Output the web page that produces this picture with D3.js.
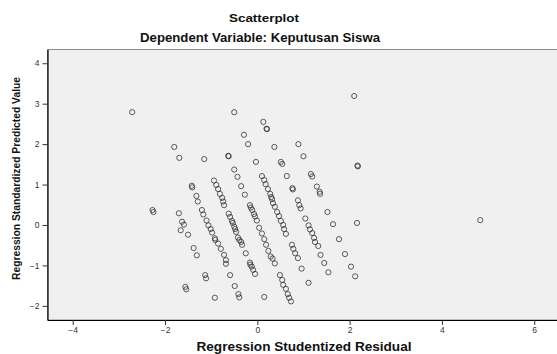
<!DOCTYPE html>
<html>
<head>
<meta charset="utf-8">
<script src="https://cdn.jsdelivr.net/npm/d3@7"></script>
<style>
  body { margin: 0; background: #fff; }
  svg { display: block; font-family: Arial, "Liberation Sans", sans-serif; }
</style>
</head>
<body>
<div id="chart"></div>
<script>
// Regression Studentized Residual (x) and Regression Standardized Predicted Value (y)
const residual = [
  -2.71, -0.50, 2.10, 2.17, 2.18, 4.83, 2.16, 0.15, -2.27, -2.25, -1.80, -1.69, -1.66, -1.56, -1.54,
  -1.70, -1.63, -1.59, -1.50, -1.38, -1.31, -1.13, -1.11, -0.92,
  -1.42, -1.41, -1.32, -1.29, -1.20, -1.17, -1.10, -1.06, -1.01, -0.98, -0.92, -0.91, -0.85, -0.79,
  -0.72, -0.68, -0.68, -0.59, -0.49, -0.41, -0.39,
  -1.15, -0.94, -0.89, -0.85, -0.81, -0.76, -0.74, -0.72, -0.62, -0.59, -0.55, -0.53, -0.50, -0.48,
  -0.46, -0.42, -0.39, -0.35, -0.33, -0.25, -0.16, -0.15, -0.12, -0.09, -0.05,
  -0.63, -0.62, -0.50, -0.43, -0.35, -0.27, -0.16, -0.14, -0.11, -0.07, -0.05, -0.01, 0.04, 0.10,
  0.15, 0.19, 0.24, 0.29, 0.33, 0.38, 0.49, 0.54, 0.56, 0.62, 0.66, 0.69, 0.73,
  -0.29, -0.20, -0.03, 0.10, 0.15, 0.18, 0.23, 0.28, 0.30, 0.32, 0.34, 0.38, 0.43, 0.47, 0.51, 0.56,
  0.58, 0.62, 0.75, 0.78, 0.82, 0.88, 0.96, 1.11,
  0.13, 0.20, 0.21, 0.37, 0.51, 0.54, 0.64, 0.76, 0.77, 0.88, 0.91, 0.94, 1.04, 1.11, 1.14, 1.19,
  1.23, 1.25, 1.32, 1.37, 1.45, 1.54,
  0.89, 1.00, 1.16, 1.19, 1.29, 1.35, 1.36, 1.52, 1.64, 1.77, 1.90, 2.03, 2.12
];
const predicted = [
  2.79, 2.79, 3.19, 1.47, 1.45, 0.12, 0.05, -1.78, 0.37, 0.32, 1.93, 1.66, -0.13, -1.53, -1.59,
  0.29, 0.08, 0.01, -0.24, -0.57, -0.75, -1.24, -1.32, -1.80,
  0.97, 0.93, 0.72, 0.58, 0.37, 0.26, 0.11, -0.01, -0.10, -0.19, -0.33, -0.37, -0.46, -0.59,
  -0.74, -0.87, -0.96, -1.24, -1.51, -1.71, -1.79,
  1.63, 1.10, 0.99, 0.89, 0.77, 0.67, 0.58, 0.49, 0.28, 0.20, 0.10, 0.05, -0.04, -0.10,
  -0.17, -0.31, -0.37, -0.42, -0.49, -0.70, -0.93, -0.98, -1.03, -1.11, -1.21,
  1.71, 1.70, 1.37, 1.19, 0.96, 0.75, 0.49, 0.43, 0.37, 0.27, 0.21, 0.11, -0.07, -0.21,
  -0.35, -0.49, -0.64, -0.78, -0.83, -0.95, -1.24, -1.36, -1.48, -1.58, -1.71, -1.80, -1.89,
  2.23, 2.00, 1.56, 1.21, 1.11, 1.01, 0.89, 0.77, 0.69, 0.64, 0.54, 0.45, 0.32, 0.22, 0.10, 0.00,
  -0.10, -0.22, -0.49, -0.59, -0.70, -0.82, -1.08, -1.43,
  2.55, 2.38, 2.37, 1.93, 1.56, 1.51, 1.21, 0.91, 0.88, 0.61, 0.49, 0.41, 0.16, -0.01, -0.11, -0.20,
  -0.32, -0.42, -0.52, -0.74, -0.94, -1.17,
  2.00, 1.70, 1.26, 1.20, 0.95, 0.82, 0.77, 0.32, 0.02, -0.35, -0.72, -1.03, -1.27
];
const xTicks = [-4, -2, 0, 2, 4, 6];
const yTicks = [-2, -1, 0, 1, 2, 3, 4];

const points = residual.map((r, i) => ({ x: r, y: predicted[i] }));

const width = 557, height = 354;
const plot = { left: 47.5, right: 561, top: 49.5, bottom: 320 };

const svg = d3.select('#chart').append('svg')
  .attr('width', width)
  .attr('height', height);

const x = d3.scaleLinear().domain([-4.546, 6.58]).range([plot.left, plot.right]);
const y = d3.scaleLinear().domain([-2.35, 4.34]).range([plot.bottom, plot.top]);

// plot background
svg.append('rect')
  .attr('x', plot.left)
  .attr('y', plot.top)
  .attr('width', plot.right - plot.left)
  .attr('height', plot.bottom - plot.top)
  .attr('fill', '#f0f0f0')
  .attr('stroke', '#8c8c8c')
  .attr('stroke-width', 1);

// titles (the source image is stretched sideways, so widths are fixed)
svg.append('text')
  .attr('x', 264).attr('y', 22)
  .attr('text-anchor', 'middle')
  .attr('font-size', 11.5).attr('font-weight', 'bold').attr('fill', '#111')
  .attr('textLength', 70).attr('lengthAdjust', 'spacingAndGlyphs')
  .text('Scatterplot');

svg.append('text')
  .attr('x', 260).attr('y', 41.5)
  .attr('text-anchor', 'middle')
  .attr('font-size', 12).attr('font-weight', 'bold').attr('fill', '#111')
  .attr('textLength', 240).attr('lengthAdjust', 'spacingAndGlyphs')
  .text('Dependent Variable: Keputusan Siswa');

// axes
const xAxis = svg.append('g')
  .attr('transform', `translate(0,${plot.bottom})`)
  .call(d3.axisBottom(x).tickValues(xTicks).tickFormat(d3.format('d'))
    .tickSizeInner(5).tickSizeOuter(0).tickPadding(2));

const yAxis = svg.append('g')
  .attr('transform', `translate(${plot.left},0)`)
  .call(d3.axisLeft(y).tickValues(yTicks).tickFormat(d3.format('d'))
    .tickSizeInner(5).tickSizeOuter(0).tickPadding(3));

[xAxis, yAxis].forEach(g => {
  g.select('.domain').attr('stroke', '#000').attr('stroke-width', 1.2);
  g.selectAll('.tick line').attr('stroke', '#333');
  g.selectAll('.tick text')
    .attr('font-size', 8.5)
    .attr('fill', '#333')
    .attr('font-family', 'Arial, "Liberation Sans", sans-serif');
});

// axis titles
svg.append('text')
  .attr('x', 304).attr('y', 351)
  .attr('text-anchor', 'middle')
  .attr('font-size', 12).attr('font-weight', 'bold').attr('fill', '#111')
  .attr('textLength', 215).attr('lengthAdjust', 'spacingAndGlyphs')
  .text('Regression Studentized Residual');

svg.append('text')
  .attr('transform', 'translate(20,178.5) rotate(-90)')
  .attr('text-anchor', 'middle')
  .attr('font-size', 11).attr('font-weight', 'bold').attr('fill', '#111')
  .attr('textLength', 203).attr('lengthAdjust', 'spacingAndGlyphs')
  .text('Regression Standardized Predicted Value');

// points
svg.append('g')
  .selectAll('circle')
  .data(points)
  .enter()
  .append('circle')
  .attr('cx', d => x(d.x))
  .attr('cy', d => y(d.y))
  .attr('r', 2.6)
  .attr('fill', 'none')
  .attr('stroke', '#2a2a2a')
  .attr('stroke-opacity', 0.75)
  .attr('stroke-width', 1);
</script>
</body>
</html>
